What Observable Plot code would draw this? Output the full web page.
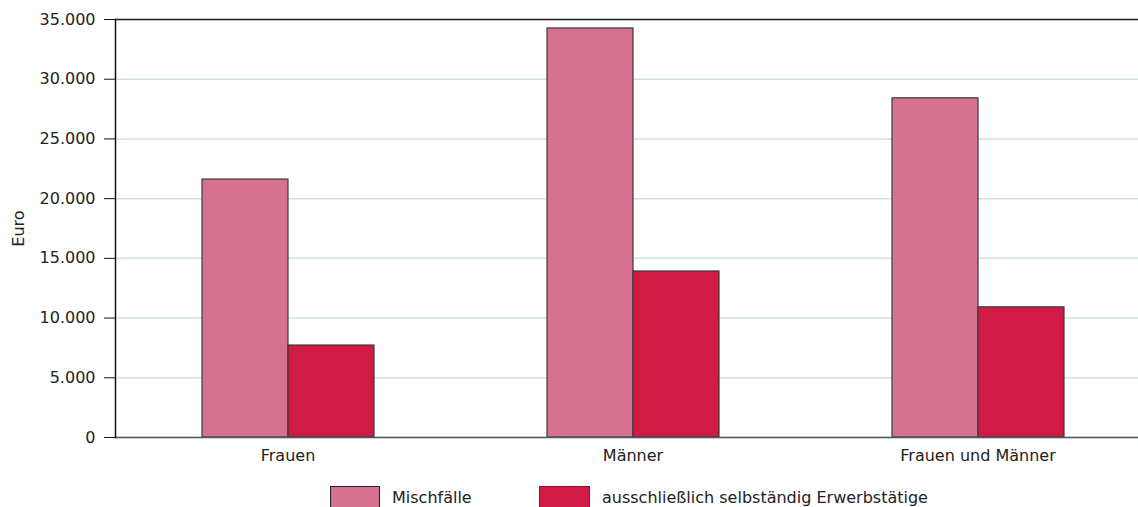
<!DOCTYPE html>
<html>
<head>
<meta charset="utf-8">
<script src="https://cdn.jsdelivr.net/npm/d3@7"></script>
<script src="https://cdn.jsdelivr.net/npm/@observablehq/plot@0.6"></script>
<style>
  html, body { margin: 0; padding: 0; background: #fff; overflow: hidden; }
  body { width: 1138px; height: 507px; font-family: "DejaVu Sans", sans-serif; color: #222; }
  #chart svg { display: block; max-width: none !important; height: 470px !important; }
  .legend { display: flex; align-items: center; margin-top: 16px; padding-left: 330px; font-size: 16px; }
  .legend .item { display: flex; align-items: center; }
  .legend .sw { width: 50px; height: 22px; border: 1px solid #222; box-sizing: border-box; margin-right: 12px; }
</style>
</head>
<body>
<div id="chart"></div>
<div class="legend" id="legend"></div>
<script>
// Groups along the horizontal axis
const categories = ["Frauen", "Männer", "Frauen und Männer"];
// The two series shown side by side in each group
const series = ["Mischfälle", "ausschließlich selbständig Erwerbstätige"];
// Values in Euro, per group
const mischfaelle = [21600, 34250, 28400];
const selbstaendig = [7700, 13900, 10900];
// Y axis ticks
const yTicks = [0, 5000, 10000, 15000, 20000, 25000, 30000, 35000];
const colors = ["#d6718f", "#d01c45"];

const rows = [];
categories.forEach((c, i) => {
  rows.push({group: c, series: series[0], value: mischfaelle[i]});
  rows.push({group: c, series: series[1], value: selbstaendig[i]});
});

const de = d3.formatLocale({decimal: ",", thousands: ".", grouping: [3], currency: ["", " €"]});
const fmt = de.format(",d");

const chart = Plot.plot({
  width: 1150,
  height: 470,
  marginLeft: 115,
  marginRight: 0,
  marginTop: 19,
  marginBottom: 33,
  style: {fontFamily: "DejaVu Sans, sans-serif", fontSize: "16px", color: "#222", background: "#fff"},
  fx: {domain: categories, padding: 0, label: null},
  x: {domain: series, paddingInner: 0, paddingOuter: 1, axis: null},
  y: {domain: [0, 35000], label: "Euro"},
  color: {domain: series, range: colors},
  marks: [
    Plot.gridY(yTicks, {stroke: "#d3e0e5", strokeOpacity: 1, strokeWidth: 1.5}),
    Plot.barY(rows, {fx: "group", x: "series", y: "value", fill: "series", stroke: "#3a3a3a", strokeWidth: 1.2}),
    Plot.ruleY([0], {stroke: "#4d5a66", strokeWidth: 1.5}),
    Plot.ruleY([35000], {stroke: "#222", strokeWidth: 1.5}),
    Plot.frame({anchor: "left", facetAnchor: "left", stroke: "#111", strokeWidth: 1.5}),
    Plot.axisY(yTicks, {
      tickSize: 11, tickPadding: 9, tickFormat: fmt, stroke: "#111",
      label: "Euro", labelAnchor: "center", labelOffset: 103, labelArrow: "none"
    }),
    Plot.axisFx({anchor: "bottom", tickSize: 0, tickPadding: 12, label: null})
  ]
});
document.getElementById("chart").append(chart);

// Legend below the chart
const legend = document.getElementById("legend");
series.forEach((s, i) => {
  const item = document.createElement("div");
  item.className = "item";
  if (i === 0) item.style.width = "209px";
  const sw = document.createElement("span");
  sw.className = "sw";
  sw.style.background = colors[i];
  if (i === 1) { sw.style.borderColor = "#9a1030"; sw.style.width = "51px"; }
  const label = document.createElement("span");
  label.textContent = s;
  item.append(sw, label);
  legend.append(item);
});
</script>
</body>
</html>
